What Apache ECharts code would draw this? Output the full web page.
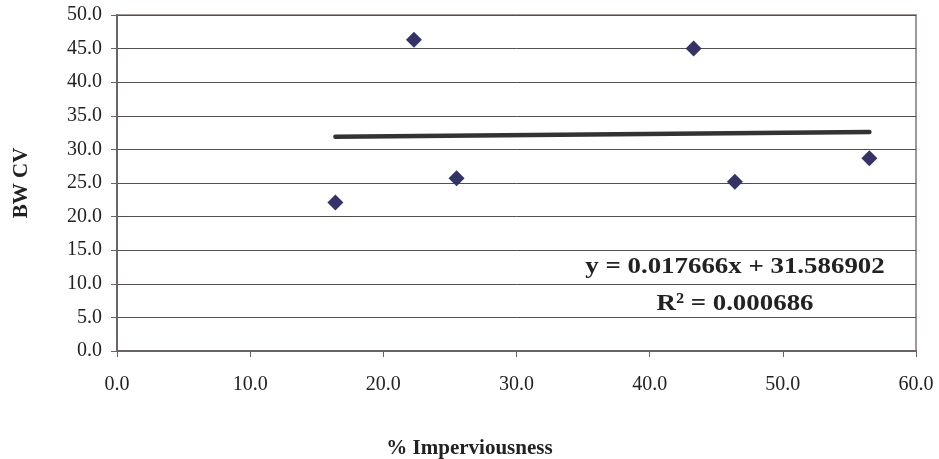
<!DOCTYPE html>
<html>
<head>
<meta charset="utf-8">
<script src="https://cdn.jsdelivr.net/npm/echarts@6/dist/echarts.min.js"></script>
<style>
html,body{margin:0;padding:0;background:#fff;}
#chart{width:939px;height:459px;}
</style>
</head>
<body>
<div id="chart"></div>
<script>
// Data
const imperviousness = [16.4, 22.3, 25.5, 43.3, 46.4, 56.5];
const bwCV = [22.1, 46.3, 25.7, 45.0, 25.2, 28.7];
const trendSlope = 0.017666;
const trendIntercept = 31.586902;
const equationText = 'y = 0.017666x + 31.586902';
const r2Text = 'R² = 0.000686';
const xTitle = '% Imperviousness';
const yTitle = 'BW CV';

const points = imperviousness.map((x, i) => [x, bwCV[i]]);
const xMin = Math.min(...imperviousness);
const xMax = Math.max(...imperviousness);
const trend = [xMin, xMax].map(x => [x, trendSlope * x + trendIntercept]);

const FONT = '"Liberation Serif", "Times New Roman", serif';
const chart = echarts.init(document.getElementById('chart'));
chart.setOption({
  backgroundColor: '#ffffff',
  animation: false,
  grid: {
    left: 117, top: 15, right: 23, bottom: 108,
    show: true, borderColor: '#a09894', borderWidth: 2, backgroundColor: '#ffffff'
  },
  xAxis: {
    type: 'value', min: 0, max: 60, interval: 10,
    axisLine: { show: true, onZero: false, lineStyle: { color: '#6a6464', width: 2 } },
    axisTick: { show: true, length: 6, lineStyle: { color: '#6a6464', width: 1 } },
    splitLine: { show: false },
    axisLabel: { margin: 24, fontFamily: FONT, fontSize: 20, color: '#222',
      formatter: v => v.toFixed(1) }
  },
  yAxis: {
    type: 'value', min: 0, max: 50, interval: 5,
    name: yTitle, nameLocation: 'middle', nameGap: 85, nameRotate: 90,
    nameTextStyle: { fontFamily: FONT, fontSize: 21, fontWeight: 'bold', color: '#222' },
    axisLine: { show: true, onZero: false, lineStyle: { color: '#6a6464', width: 2 } },
    axisTick: { show: true, length: 6, lineStyle: { color: '#6a6464', width: 1 } },
    splitLine: { show: true, lineStyle: { color: '#505050', width: 1 } },
    axisLabel: { margin: 15, fontFamily: FONT, fontSize: 20, color: '#222',
      formatter: v => v.toFixed(1) }
  },
  graphic: [
    { type: 'text', left: 'center', top: 438, x: -9,
      style: { text: xTitle, font: 'bold 21px ' + FONT, fill: '#222' } },
    { type: 'text', x: 735, y: 267, scaleX: 1.12,
      style: { text: equationText, font: 'bold 24px ' + FONT, fill: '#222',
        textAlign: 'center', textVerticalAlign: 'middle' } },
    { type: 'text', x: 735, y: 304, scaleX: 1.12,
      style: { text: r2Text, font: 'bold 24px ' + FONT, fill: '#222',
        textAlign: 'center', textVerticalAlign: 'middle' } }
  ],
  series: [
    {
      type: 'line', data: trend, symbol: 'none', z: 2,
      lineStyle: { color: '#333333', width: 4.5, cap: 'round' }
    },
    {
      type: 'scatter', data: points, symbol: 'diamond', symbolSize: 16, z: 3,
      itemStyle: { color: '#333366', opacity: 1 }
    }
  ]
});
</script>
</body>
</html>
